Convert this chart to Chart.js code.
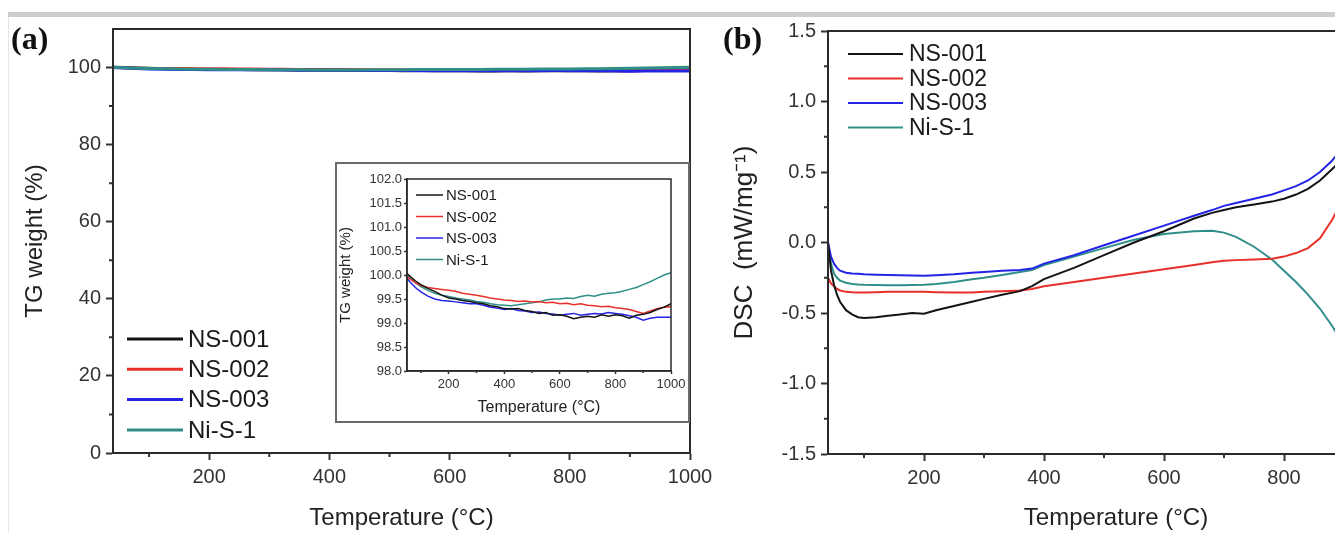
<!DOCTYPE html>
<html>
<head>
<meta charset="utf-8">
<script src="https://cdn.jsdelivr.net/npm/chart.js@4.4.1/dist/chart.umd.min.js"></script>
<style>
  html, body { margin: 0; padding: 0; background: #fff; }
  body { width: 1335px; height: 533px; overflow: hidden; position: relative; font-family: "Liberation Sans", Arial, sans-serif; }
  #topbar { position: absolute; left: 8px; top: 12px; width: 1327px; height: 5px; background: #cdcdcd; }
  #leftline { position: absolute; left: 8px; top: 17px; width: 1px; height: 516px; background: #e6e6e6; }
  .tag { position: absolute; font-family: "Liberation Serif", serif; font-weight: bold; font-size: 32px; color: #111; line-height: 32px; }
  #wrapA { position: absolute; left: 0; top: 0; }
  #wrapB { position: absolute; left: 700px; top: 0; }
  #wrapIn { position: absolute; left: 335px; top: 162px; border: 2px solid #6a6a6a; background: #fff; }
  canvas { display: block; }
</style>
</head>
<body>
<div id="topbar"></div>
<div id="leftline"></div>
<div id="wrapA"><canvas id="chartA" width="730" height="533"></canvas></div>
<div id="wrapIn"><canvas id="chartIn" width="351" height="257"></canvas></div>
<div id="wrapB"><canvas id="chartB" width="740" height="533"></canvas></div>
<div class="tag" style="left:11px; top:22px;">(a)</div>
<div class="tag" style="left:723px; top:22px;">(b)</div>
<script>
// series names and colours
const names = ['NS-001', 'NS-002', 'NS-003', 'Ni-S-1'];
const colors = ['#141414', '#e8302a', '#2424e6', '#2f8f88'];

// TG curves (temperature in °C, weight in %)
const tgTemp = [40, 60, 80, 100, 125, 150, 175, 200, 225, 250,
  275, 300, 325, 350, 375, 400, 425, 450, 475, 500,
  525, 550, 575, 600, 625, 650, 675, 700, 725, 750,
  775, 800, 825, 850, 875, 900, 925, 950, 975, 1000];
const tgNS001 = [100.08, 99.98, 99.88, 99.80, 99.72, 99.66, 99.58, 99.52, 99.50, 99.47,
  99.45, 99.42, 99.40, 99.36, 99.34, 99.30, 99.29, 99.30, 99.26, 99.24,
  99.20, 99.22, 99.16, 99.17, 99.14, 99.09, 99.12, 99.14, 99.12, 99.17,
  99.14, 99.17, 99.15, 99.10, 99.16, 99.18, 99.22, 99.28, 99.33, 99.40];
const tgNS002 = [100.02, 99.92, 99.84, 99.78, 99.74, 99.72, 99.70, 99.68, 99.66, 99.62,
  99.60, 99.58, 99.55, 99.52, 99.50, 99.48, 99.47, 99.45, 99.46, 99.44,
  99.45, 99.42, 99.43, 99.40, 99.41, 99.38, 99.40, 99.37, 99.36, 99.34,
  99.35, 99.32, 99.30, 99.28, 99.24, 99.20, 99.25, 99.30, 99.33, 99.34];
const tgNS003 = [100.00, 99.86, 99.74, 99.65, 99.56, 99.50, 99.47, 99.46, 99.44, 99.42,
  99.40, 99.40, 99.37, 99.33, 99.31, 99.28, 99.30, 99.26, 99.25, 99.22,
  99.23, 99.20, 99.19, 99.16, 99.18, 99.20, 99.16, 99.18, 99.20, 99.19,
  99.22, 99.20, 99.18, 99.15, 99.12, 99.06, 99.10, 99.12, 99.12, 99.12];
const tgNiS1 = [100.08, 99.95, 99.84, 99.76, 99.68, 99.62, 99.58, 99.55, 99.52, 99.50,
  99.48, 99.45, 99.43, 99.40, 99.38, 99.37, 99.36, 99.38, 99.40, 99.42,
  99.44, 99.48, 99.50, 99.50, 99.52, 99.51, 99.55, 99.58, 99.56, 99.60,
  99.62, 99.63, 99.66, 99.70, 99.74, 99.80, 99.86, 99.93, 100.00, 100.05];

// DSC curves (temperature in °C, heat flow in mW/mg)
const dscTemp = [40, 45, 50, 55, 60, 70, 80, 90, 100, 120,
  140, 160, 180, 200, 220, 250, 280, 300, 330, 360,
  380, 400, 450, 500, 550, 600, 650, 680, 700, 720,
  750, 780, 800, 820, 840, 860, 880, 890];
const dscNS001 = [0.0, -0.2, -0.3, -0.37, -0.42, -0.48, -0.51, -0.53, -0.535, -0.53,
  -0.52, -0.51, -0.50, -0.505, -0.48, -0.45, -0.42, -0.40, -0.37, -0.345,
  -0.31, -0.26, -0.18, -0.09, 0.0, 0.08, 0.17, 0.21, 0.23, 0.25,
  0.27, 0.29, 0.31, 0.34, 0.38, 0.44, 0.52, 0.56];
const dscNS002 = [-0.25, -0.29, -0.31, -0.33, -0.34, -0.35, -0.353, -0.355, -0.355, -0.352,
  -0.35, -0.35, -0.35, -0.35, -0.352, -0.355, -0.355, -0.35, -0.345, -0.34,
  -0.33, -0.31, -0.28, -0.25, -0.22, -0.19, -0.16, -0.14, -0.13, -0.125,
  -0.12, -0.115, -0.10, -0.075, -0.04, 0.03, 0.16, 0.24];
const dscNS003 = [0.0, -0.1, -0.15, -0.18, -0.2, -0.215, -0.22, -0.222, -0.225, -0.228,
  -0.23, -0.232, -0.234, -0.235, -0.232, -0.225, -0.215, -0.21, -0.20, -0.195,
  -0.185, -0.15, -0.09, -0.02, 0.05, 0.12, 0.19, 0.23, 0.26, 0.28,
  0.31, 0.34, 0.37, 0.40, 0.44, 0.50, 0.58, 0.63];
const dscNiS1 = [0.0, -0.15, -0.22, -0.25, -0.27, -0.285, -0.295, -0.298, -0.30, -0.302,
  -0.303, -0.303, -0.302, -0.30, -0.295, -0.28, -0.26, -0.25, -0.23, -0.21,
  -0.195, -0.16, -0.10, -0.04, 0.02, 0.06, 0.08, 0.083, 0.07, 0.04,
  -0.03, -0.12, -0.20, -0.28, -0.37, -0.47, -0.59, -0.66];

// tick values
const tempMajor = [200, 400, 600, 800, 1000];
const tempMinor = [100, 300, 500, 700, 900];
const tgMajor = [0, 20, 40, 60, 80, 100];
const tgMinor = [10, 30, 50, 70, 90];
const insetMajor = [98.0, 98.5, 99.0, 99.5, 100.0, 100.5, 101.0, 101.5, 102.0];
const dscMajor = [-1.5, -1.0, -0.5, 0.0, 0.5, 1.0, 1.5];
const dscMinor = [-1.25, -0.75, -0.25, 0.25, 0.75, 1.25];

const tgSeries = [tgNS001, tgNS002, tgNS003, tgNiS1];
const dscSeries = [dscNS001, dscNS002, dscNS003, dscNiS1];
const drawOrderA = [3, 2, 1, 0];

function toPoints(xs, ys) {
  return ys.map((y, i) => ({ x: xs[i], y: y }));
}

// box around the plot area
const frame = {
  id: 'frame',
  afterDraw(chart) {
    const a = chart.chartArea, ctx = chart.ctx;
    ctx.save();
    ctx.strokeStyle = '#2a2a2a';
    ctx.lineWidth = chart.options.plugins.frame.width;
    ctx.strokeRect(a.left, a.top, a.right - a.left, a.bottom - a.top);
    ctx.restore();
  }
};

// short unlabeled ticks
const minorTicks = {
  id: 'minorTicks',
  afterDraw(chart, args, o) {
    const ctx = chart.ctx, a = chart.chartArea;
    ctx.save();
    ctx.strokeStyle = '#333';
    ctx.lineWidth = o.width;
    ctx.beginPath();
    o.x.forEach(v => {
      const p = chart.scales.x.getPixelForValue(v);
      ctx.moveTo(p, a.bottom); ctx.lineTo(p, a.bottom + o.len);
    });
    o.y.forEach(v => {
      const p = chart.scales.y.getPixelForValue(v);
      ctx.moveTo(a.left, p); ctx.lineTo(a.left - o.len, p);
    });
    ctx.stroke();
    ctx.restore();
  }
};

// legend drawn inside the plot
const lineLegend = {
  id: 'lineLegend',
  afterDraw(chart, args, o) {
    const ctx = chart.ctx;
    ctx.save();
    ctx.font = o.font;
    ctx.textBaseline = 'middle';
    chart.data.datasets.forEach((ds, i) => {
      const y = o.y + i * o.rowH;
      ctx.strokeStyle = ds.borderColor;
      ctx.lineWidth = o.lineWidth;
      ctx.beginPath();
      ctx.moveTo(o.x, y);
      ctx.lineTo(o.x + o.len, y);
      ctx.stroke();
      ctx.fillStyle = '#1a1a1a';
      ctx.fillText(ds.label, o.x + o.len + o.gap, y + 1);
    });
    ctx.restore();
  }
};

function axis(opt) {
  return {
    type: 'linear',
    min: opt.min,
    max: opt.max,
    afterBuildTicks: s => { s.ticks = opt.major.map(v => ({ value: v })); },
    afterFit: s => {
      if (opt.w) s.width = opt.w;
      if (opt.h) s.height = opt.h;
      s.paddingLeft = 0; s.paddingRight = 0; s.paddingTop = 0; s.paddingBottom = 0;
    },
    grid: { display: true, drawOnChartArea: false, drawTicks: true, tickLength: opt.tick, tickColor: '#333', tickWidth: opt.bw },
    border: { display: true, color: '#2a2a2a', width: opt.bw },
    ticks: {
      color: '#333',
      font: { family: 'Liberation Sans', size: opt.fs },
      padding: opt.pad,
      maxRotation: 0,
      autoSkip: false,
      callback: v => opt.dec ? v.toFixed(opt.dec) : String(v)
    },
    title: {
      display: true,
      text: opt.title,
      color: '#222',
      font: { family: 'Liberation Sans', size: opt.tfs, lineHeight: 1 },
      padding: opt.tpad
    }
  };
}

function baseOptions() {
  return {
    responsive: false,
    animation: false,
    events: [],
    elements: { point: { radius: 0 }, line: { tension: 0 } },
  };
}

// panel (a): TG
new Chart(document.getElementById('chartA'), {
  type: 'line',
  data: {
    datasets: names.map((n, i) => ({
      label: n,
      data: toPoints(tgTemp, tgSeries[i]),
      borderColor: colors[i],
      borderWidth: 3,
      order: drawOrderA[i]
    }))
  },
  options: Object.assign(baseOptions(), {
    layout: { padding: { left: 0, top: 29, right: 40, bottom: 0 } },
    scales: {
      x: axis({ min: 40, max: 1000, major: tempMajor, h: 80, tick: 7, bw: 2, fs: 20, pad: 5,
        title: 'Temperature (°C)', tfs: 24, tpad: { top: 0, bottom: 3 } }),
      y: axis({ min: 0, max: 110, major: tgMajor, w: 113, tick: 7, bw: 2, fs: 20, pad: 5,
        title: 'TG weight (%)', tfs: 24, tpad: { top: 23, bottom: 0 } })
    },
    plugins: {
      legend: { display: false },
      tooltip: { enabled: false },
      frame: { width: 2 },
      minorTicks: { x: tempMinor, y: tgMinor, len: 4, width: 2 },
      lineLegend: { x: 127, y: 339, rowH: 30.3, len: 56, gap: 5, lineWidth: 3, font: '24px "Liberation Sans"' }
    }
  }),
  plugins: [frame, minorTicks, lineLegend]
});

// inset of panel (a): TG zoomed
new Chart(document.getElementById('chartIn'), {
  type: 'line',
  data: {
    datasets: names.map((n, i) => ({
      label: n,
      data: toPoints(tgTemp, tgSeries[i]),
      borderColor: colors[i],
      borderWidth: 1.5
    }))
  },
  options: Object.assign(baseOptions(), {
    layout: { padding: { left: 0, top: 15, right: 17, bottom: 0 } },
    scales: {
      x: axis({ min: 50, max: 1000, major: tempMajor, h: 50, tick: 3, bw: 1.5, fs: 13, pad: 3,
        title: 'Temperature (°C)', tfs: 16, tpad: { top: 0, bottom: 5 } }),
      y: axis({ min: 98, max: 102, major: insetMajor, w: 70, tick: 3, bw: 1.5, fs: 13, pad: 2, dec: 1,
        title: 'TG weight (%)', tfs: 15, tpad: { top: 1, bottom: 0 } })
    },
    plugins: {
      legend: { display: false },
      tooltip: { enabled: false },
      frame: { width: 1.5 },
      minorTicks: { x: tempMinor, y: [], len: 2, width: 1.5 },
      lineLegend: { x: 79, y: 31, rowH: 21.5, len: 27, gap: 3, lineWidth: 1.5, font: '15px "Liberation Sans"' }
    }
  }),
  plugins: [frame, minorTicks, lineLegend]
});

// panel (b): DSC
new Chart(document.getElementById('chartB'), {
  type: 'line',
  data: {
    datasets: names.map((n, i) => ({
      label: n,
      data: toPoints(dscTemp, dscSeries[i]),
      borderColor: colors[i],
      borderWidth: 2
    }))
  },
  options: Object.assign(baseOptions(), {
    layout: { padding: { left: 0, top: 31, right: 36, bottom: 0 } },
    scales: {
      x: axis({ min: 40, max: 1000, major: tempMajor, h: 79, tick: 7, bw: 2, fs: 20, pad: 5,
        title: 'Temperature (°C)', tfs: 24, tpad: { top: 0, bottom: 3 } }),
      y: axis({ min: -1.5, max: 1.5, major: dscMajor, w: 128, tick: 7, bw: 2, fs: 20, pad: 5, dec: 1,
        title: 'DSC  (mW/mg⁻¹)', tfs: 26, tpad: { top: 32, bottom: 0 } })
    },
    plugins: {
      legend: { display: false },
      tooltip: { enabled: false },
      frame: { width: 2 },
      minorTicks: { x: tempMinor, y: dscMinor, len: 4, width: 2 },
      lineLegend: { x: 148, y: 54, rowH: 24.5, len: 55, gap: 6, lineWidth: 2, font: '23px "Liberation Sans"' }
    }
  }),
  plugins: [frame, minorTicks, lineLegend]
});
</script>
</body>
</html>
